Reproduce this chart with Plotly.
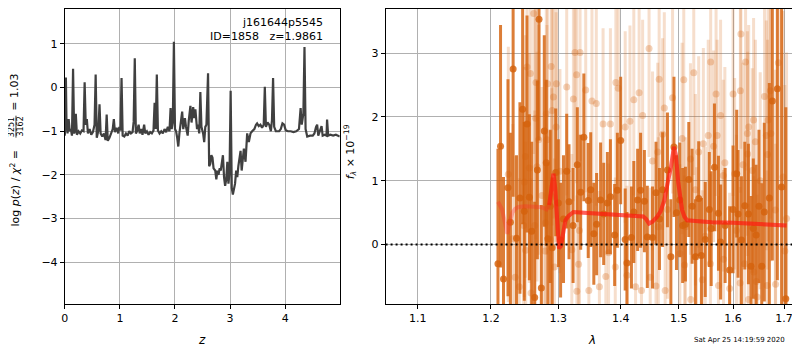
import plotly.graph_objects as go

# ---------------- data: left panel (log p(z)) ----------------
z = [0.00, 0.01, 0.02, 0.03, 0.05, 0.07, 0.09, 0.11, 0.13, 0.15, 0.17, 0.19, 0.20, 0.22, 0.25, 0.28,
     0.31, 0.34, 0.36, 0.38, 0.40, 0.42, 0.45, 0.48, 0.51, 0.54, 0.56, 0.58, 0.61, 0.63, 0.65, 0.68,
     0.71, 0.74, 0.76, 0.78, 0.81, 0.84, 0.87, 0.89, 0.91, 0.94, 0.97, 0.99, 1.01, 1.03, 1.05, 1.08,
     1.11, 1.14, 1.17, 1.20, 1.23, 1.25, 1.27, 1.29, 1.31, 1.34, 1.36, 1.39, 1.41, 1.44, 1.46, 1.49,
     1.52, 1.55, 1.58, 1.61, 1.63, 1.65, 1.67, 1.69, 1.72, 1.75, 1.78, 1.81, 1.84, 1.87, 1.90, 1.92,
     1.94, 1.96, 1.98, 2.00, 2.02, 2.04, 2.06, 2.08, 2.10, 2.13, 2.15, 2.18, 2.20, 2.23, 2.25, 2.28,
     2.30, 2.33, 2.35, 2.37, 2.40, 2.42, 2.44, 2.46, 2.48, 2.51, 2.53, 2.55, 2.57, 2.60, 2.62, 2.64,
     2.66, 2.68, 2.70, 2.73, 2.75, 2.77, 2.79, 2.81, 2.83, 2.85, 2.87, 2.89, 2.91, 2.93, 2.95, 2.97,
     2.99, 3.01, 3.03, 3.05, 3.07, 3.09, 3.11, 3.13, 3.15, 3.17, 3.19, 3.21, 3.23, 3.25, 3.28, 3.31,
     3.34, 3.37, 3.40, 3.44, 3.47, 3.49, 3.52, 3.55, 3.58, 3.61, 3.63, 3.65, 3.68, 3.71, 3.74, 3.76,
     3.78, 3.80, 3.83, 3.86, 3.89, 3.92, 3.95, 3.98, 4.01, 4.05, 4.10, 4.15, 4.20, 4.25, 4.28, 4.30,
     4.33, 4.35, 4.37, 4.40, 4.45, 4.50, 4.53, 4.56, 4.58, 4.60, 4.63, 4.66, 4.68, 4.72, 4.75, 4.76,
     4.78, 4.82, 4.87, 4.92, 4.99]
logp = [-1.10, -0.85, 0.23, -0.75, -1.05, -0.72, -1.00, -0.95, -1.10, 0.43, -1.05, -0.98, -0.60, -1.08, -1.00, -1.05,
        -0.98, -1.00, 0.12, -0.85, -0.72, -1.05, -0.95, -1.08, -1.02, -0.85, 0.30, -1.15, -0.98, -0.38, -1.05, -1.12,
        -1.05, -1.20, -0.62, -1.22, -1.15, -1.05, -0.95, -0.72, -1.02, -0.92, -1.05, -0.90, -0.98, 0.22, -1.10, -1.12,
        -1.05, -1.10, -1.00, -1.05, -1.02, -0.78, 0.67, -1.05, -1.00, -0.85, -1.05, -0.95, -1.08, -0.85, -1.05, -1.00,
        -1.08, -1.02, -1.05, -0.98, -0.35, -0.95, 0.30, -0.98, -1.05, -1.00, -1.05, -0.95, -1.02, -0.90, -1.00, -0.47,
        -0.95, -0.80, 1.05, -0.95, -1.00, -1.15, -1.35, -1.05, -0.85, -0.55, -0.95, -0.70, -0.90, -1.10, -0.75, -0.42,
        -0.80, -0.45, -0.70, -0.50, -0.95, -0.85, -1.05, -0.10, -0.90, -1.05, -1.25, -0.90, -0.85, 0.33, -1.80, -1.75,
        -1.55, -1.60, -1.85, -1.90, -2.10, -1.90, -2.00, -1.85, -1.90, -1.70, -1.55, -2.05, -2.25, -2.10, -1.70, -2.20,
        -1.95, -0.07, -2.30, -2.45, -2.30, -2.20, -1.90, -2.05, -1.80, -1.65, -1.45, -1.90, -1.65, -1.40, -1.70, -1.05,
        -1.25, -1.05, -1.00, -0.95, -0.85, -0.82, -0.88, -0.85, -0.92, -0.85, 0.02, -0.90, -0.80, -0.85, -1.00, -0.75,
        0.22, -0.90, -1.00, -1.00, -1.00, -0.95, -0.82, -0.85, -0.98, -1.00, -1.00, -1.02, -1.00, -0.95, -0.47, -0.85,
        -0.60, 0.93, -0.95, -1.12, -1.10, -1.10, -1.05, -0.90, -0.85, -1.10, -1.00, -0.88, -1.10, -1.08, -1.10, -0.73,
        -1.10, -1.08, -1.10, -1.08, -1.12]

# ---------------- data: right panel (spectrum) ----------------
wave_dark = [1.2100, 1.2137, 1.2180, 1.2245, 1.2280, 1.2320, 1.2370, 1.2420, 1.2460, 1.2485, 1.2525, 1.2560,
             1.2595, 1.2640, 1.2680, 1.2705, 1.2740, 1.2785, 1.2815, 1.2840, 1.2875, 1.2905, 1.2960, 1.3000,
             1.3035, 1.3080, 1.3130, 1.3166, 1.3230, 1.3297, 1.3350, 1.3400, 1.3470, 1.3510, 1.3560, 1.3605,
             1.3670, 1.3720, 1.3780, 1.3830, 1.3900, 1.3945, 1.4000, 1.4075, 1.4105, 1.4180, 1.4220, 1.4285,
             1.4335, 1.4400, 1.4450, 1.4540, 1.4600, 1.4660, 1.4715, 1.4800, 1.4860, 1.4915, 1.4960, 1.5020,
             1.5070, 1.5120, 1.5180, 1.5240, 1.5300, 1.5360, 1.5410, 1.5480, 1.5555, 1.5590, 1.5650, 1.5725,
             1.5765, 1.5850, 1.5935, 1.6000, 1.6070, 1.6095, 1.6160, 1.6225, 1.6295, 1.6345, 1.6390, 1.6445,
             1.6500, 1.6555, 1.6605, 1.6705, 1.6765, 1.6865, 1.6950, 1.7035]
flux_dark = [-0.30, 1.54, -0.54, 0.89, 0.35, 2.75, 0.10, 0.73, 2.12, 0.52, 1.89, 0.74,
             0.21, -0.83, 1.17, 3.53, -0.68, 1.78, 1.28, 0.09, 0.60, -0.05, 1.13, 0.65,
             0.07, 0.40, 1.15, 0.67, 0.30, 1.25, 0.82, 1.68, 0.69, 0.86, 0.17, 0.32,
             0.70, 0.48, 0.65, 0.75, 0.15, 0.85, 1.63, 0.08, -0.29, 0.11, 0.51, 0.70,
             0.85, 0.68, 0.12, 0.11, 0.81, 0.40, 0.86, 1.17, -0.19, 1.53, 0.50, 0.70,
             0.30, 0.32, 1.02, 0.60, -0.19, 0.72, -0.17, 0.08, 0.55, 0.25, 1.21, 0.49,
             0.04, 0.30, -0.40, 0.55, 1.11, 0.48, 0.07, 0.61, 0.48, -0.34, 0.25, 0.15,
             0.60, -0.34, 0.51, 0.73, 2.25, 2.44, 0.90, -0.85]
err_dark = [1.8, 1.9, 1.6, 1.7, 1.4, 2.0, 1.3, 1.5, 1.8, 1.4, 1.7, 1.3,
            1.4, 1.5, 1.4, 1.9, 1.3, 1.5, 1.3, 1.2, 1.2, 1.1, 1.0, 1.0,
            0.9, 1.0, 0.9, 0.9, 0.9, 0.9, 0.9, 1.0, 0.9, 0.9, 0.8, 0.8,
            0.9, 0.8, 0.8, 0.9, 0.8, 0.9, 1.0, 0.8, 0.8, 0.8, 0.8, 0.8,
            0.9, 0.8, 0.8, 0.8, 0.8, 0.8, 0.9, 0.9, 0.9, 1.1, 0.9, 0.9,
            0.9, 0.9, 0.9, 0.9, 0.9, 0.9, 0.9, 0.9, 0.9, 0.9, 1.0, 0.9,
            0.9, 0.9, 1.0, 1.0, 1.0, 1.0, 1.0, 1.0, 1.1, 1.1, 1.1, 1.1,
            1.2, 1.3, 1.4, 1.8, 2.5, 3.0, 3.5, 3.0]

wave_light = [1.2250, 1.2315, 1.2350, 1.2410, 1.2475, 1.2485, 1.2500, 1.2505, 1.2525, 1.2560, 1.2575, 1.2585,
              1.2625, 1.2640, 1.2655, 1.2660, 1.2675, 1.2700, 1.2750, 1.2795, 1.2805, 1.2815, 1.2825, 1.2835,
              1.2875, 1.2890, 1.2900, 1.2905, 1.2925, 1.2940, 1.2965, 1.2970, 1.3025, 1.3130, 1.3210, 1.3235,
              1.3260, 1.3285, 1.3290, 1.3317, 1.3330, 1.3340, 1.3430, 1.3480, 1.3530, 1.3600, 1.3650, 1.3710,
              1.3755, 1.3800, 1.3830, 1.3910, 1.3920, 1.3960, 1.4075, 1.4105, 1.4155, 1.4220, 1.4250, 1.4310,
              1.4350, 1.4370, 1.4480, 1.4500, 1.4540, 1.4600, 1.4630, 1.4640, 1.4655, 1.4715, 1.4745, 1.4760,
              1.4800, 1.4890, 1.5020, 1.5060, 1.5090, 1.5105, 1.5120, 1.5210, 1.5215, 1.5270, 1.5300, 1.5320,
              1.5360, 1.5425, 1.5445, 1.5480, 1.5535, 1.5575, 1.5580, 1.5635, 1.5680, 1.5700, 1.5725, 1.5765,
              1.5815, 1.5820, 1.5845, 1.5935, 1.6000, 1.6030, 1.6065, 1.6135, 1.6140, 1.6150, 1.6190, 1.6220,
              1.6240, 1.6275, 1.6280, 1.6295, 1.6300, 1.6370, 1.6395, 1.6400, 1.6430, 1.6450, 1.6465, 1.6525,
              1.6610, 1.6645, 1.6660, 1.6670, 1.6680, 1.6725, 1.6735, 1.6825, 1.6830, 1.6885, 1.6980, 1.7015,
              1.7050]
flux_light = [1.10, 0.09, -0.51, -0.66, 0.30, 0.98, 1.38, -0.09, 2.78, 1.20, 2.68, -0.76,
              3.62, 0.30, 1.98, 2.54, 1.22, 1.64, 0.77, -0.10, 0.34, 2.05, 1.64, 2.52,
              0.08, 2.79, 0.75, 2.10, 2.31, -0.35, 1.84, 2.52, 1.15, 2.47, -0.08, 2.28,
              3.01, 2.66, -0.73, -0.31, 0.22, 3.01, 2.42, -0.72, 2.25, 2.21, -0.66, 1.89,
              -0.50, -0.13, 1.89, -0.35, 2.54, 2.45, 1.84, -0.48, 1.93, 2.27, -0.66, 2.38,
              -0.72, 2.02, 3.07, -0.51, 1.31, -0.65, 1.45, 0.28, 2.59, 1.73, 2.14, -0.72,
              0.55, 2.30, -0.14, 1.66, 2.58, -0.32, 0.28, 1.34, -0.86, 2.69, 0.86, -0.19,
              1.45, -0.55, 1.58, 0.13, 1.71, -0.30, 2.86, 1.54, 2.36, 1.71, -0.64, 2.02,
              1.08, -0.23, 1.28, -0.69, 2.36, 1.11, 0.22, -0.60, 2.41, 3.30, 1.25, -0.30,
              2.86, 1.74, 1.42, -0.86, 1.84, 1.16, 1.95, -0.43, 1.61, -0.58, -0.82, 1.00,
              2.32, 1.71, -0.64, 1.41, 1.95, 2.41, 1.74, 0.54, -0.62, 2.85, 1.06, -0.10,
              0.41]
err_light = [2.0, 1.8, 1.9, 1.7, 1.8, 1.8, 1.9, 1.7, 2.0, 1.8, 2.0, 1.8,
             2.2, 1.8, 1.9, 2.0, 1.8, 1.8, 1.7, 1.7, 1.7, 1.8, 1.8, 1.9,
             1.7, 1.9, 1.7, 1.8, 1.9, 1.7, 1.8, 1.9, 1.6, 1.7, 1.5, 1.6,
             1.8, 1.7, 1.5, 1.5, 1.5, 1.7, 1.6, 1.5, 1.6, 1.6, 1.5, 1.5,
             1.5, 1.4, 1.5, 1.4, 1.6, 1.6, 1.5, 1.4, 1.5, 1.5, 1.4, 1.6,
             1.4, 1.5, 1.7, 1.4, 1.4, 1.4, 1.4, 1.4, 1.6, 1.5, 1.5, 1.4,
             1.4, 1.5, 1.4, 1.5, 1.6, 1.4, 1.4, 1.5, 1.4, 1.6, 1.5, 1.4,
             1.5, 1.4, 1.5, 1.4, 1.5, 1.4, 1.6, 1.5, 1.6, 1.5, 1.4, 1.5,
             1.5, 1.4, 1.5, 1.5, 1.6, 1.5, 1.5, 1.5, 1.6, 1.8, 1.6, 1.5,
             1.7, 1.6, 1.6, 1.5, 1.6, 1.6, 1.6, 1.5, 1.6, 1.6, 1.6, 1.7,
             1.8, 1.8, 1.8, 1.8, 1.9, 2.0, 2.0, 2.2, 2.2, 2.5, 2.6, 2.6,
             2.6]

wave_model = [1.2100, 1.2160, 1.2200, 1.2235, 1.2270, 1.2310, 1.2350, 1.2400, 1.2500, 1.2600, 1.2700, 1.2780,
              1.2820, 1.2860, 1.2900, 1.2925, 1.2950, 1.2980, 1.3010, 1.3040, 1.3070, 1.3110, 1.3160, 1.3235,
              1.3400, 1.3600, 1.3800, 1.4000, 1.4200, 1.4380, 1.4430, 1.4480, 1.4540, 1.4615, 1.4680, 1.4745,
              1.4800, 1.4860, 1.4915, 1.4950, 1.4990, 1.5030, 1.5060, 1.5100, 1.5150, 1.5300, 1.5600, 1.6000,
              1.6400, 1.6800, 1.7050]
flux_model = [0.67, 0.55, 0.35, 0.17, 0.35, 0.50, 0.56, 0.59, 0.60, 0.60, 0.59, 0.57,
              0.55, 0.62, 0.90, 1.11, 0.90, 0.40, -0.06, -0.02, 0.20, 0.38, 0.45, 0.51,
              0.50, 0.49, 0.47, 0.46, 0.45, 0.44, 0.40, 0.33, 0.36, 0.43, 0.52, 0.69,
              0.95, 1.21, 1.53, 1.40, 0.98, 0.70, 0.54, 0.44, 0.38, 0.37, 0.35, 0.34,
              0.33, 0.31, 0.30]

z_ticks = [0, 1, 2, 3, 4]
logp_ticks = [-4, -3, -2, -1, 0, 1]
wave_ticks = [1.1, 1.2, 1.3, 1.4, 1.5, 1.6, 1.7]
wave_ticktext = ["1.1", "1.2", "1.3", "1.4", "1.5", "1.6", "1.7"]
flux_ticks = [0, 1, 2, 3]

# ---------------- layout helpers (screen pixel -> paper) ----------------
# the page body has an 8px margin, so the figure is shrunk to fit the window
OFF = 8
W, H = 800 - OFF, 350 - OFF
def px(x):
    return (x - OFF) / W
def py(y):
    return 1 - (y - OFF) / H

FONT = "DejaVu Sans"
ORANGE_DARK = "rgba(212,98,12,0.82)"
ORANGE_LIGHT_BAR = "rgba(215,105,25,0.22)"
ORANGE_LIGHT_MK = "rgba(215,105,25,0.30)"

fig = go.Figure()

fig.add_trace(go.Scatter(x=z, y=logp, mode="lines",
                         line=dict(color="#404040", width=2.2),
                         xaxis="x", yaxis="y", hoverinfo="skip"))

fig.add_trace(go.Scatter(x=wave_light, y=flux_light, mode="markers",
                         marker=dict(size=7, color=ORANGE_LIGHT_MK, line=dict(width=0)),
                         error_y=dict(type="data", array=err_light, thickness=3, width=0,
                                      color=ORANGE_LIGHT_BAR),
                         xaxis="x2", yaxis="y2", hoverinfo="skip"))

fig.add_trace(go.Scatter(x=wave_dark, y=flux_dark, mode="markers",
                         marker=dict(size=7, color=ORANGE_DARK, line=dict(width=0)),
                         error_y=dict(type="data", array=err_dark, thickness=3, width=0,
                                      color=ORANGE_DARK),
                         xaxis="x2", yaxis="y2", hoverinfo="skip"))

# model: drawn twice where both beams overlap
fig.add_trace(go.Scatter(x=wave_model, y=flux_model, mode="lines",
                         line=dict(color="rgba(255,40,40,0.32)", width=4),
                         xaxis="x2", yaxis="y2", hoverinfo="skip"))
i0 = next(i for i, w in enumerate(wave_model) if w >= 1.286)
fig.add_trace(go.Scatter(x=wave_model[i0:], y=flux_model[i0:], mode="lines",
                         line=dict(color="rgba(255,20,10,0.55)", width=4),
                         xaxis="x2", yaxis="y2", hoverinfo="skip"))

axis_common = dict(showline=True, linecolor="black", linewidth=1, mirror=True,
                   ticks="outside", ticklen=4, tickwidth=1, tickcolor="black",
                   showgrid=True, gridcolor="#b0b0b0", gridwidth=1, zeroline=False,
                   tickfont=dict(family=FONT, size=11, color="black"))

# the plot area top can't go above the 8px page offset; ranges are trimmed so
# that every value keeps the same screen position as in the reference
TOP = 8
fig.update_layout(
    width=W, height=H,
    margin=dict(l=0, r=0, t=0, b=0),
    paper_bgcolor="white", plot_bgcolor="white",
    showlegend=False,
    xaxis=dict(domain=[px(62), px(338)], anchor="y", range=[0, 4.99],
               tickvals=z_ticks, **axis_common),
    yaxis=dict(domain=[py(304), py(TOP)], anchor="x", range=[-4.96, 1.80],
               tickvals=logp_ticks, **axis_common),
    xaxis2=dict(domain=[px(384), px(799)], anchor="y2", type="log",
                range=[0.02478, 0.23816], tickvals=wave_ticks, ticktext=wave_ticktext,
                **axis_common),
    yaxis2=dict(domain=[py(304), py(TOP)], anchor="x2", range=[-0.933, 3.69],
                tickvals=flux_ticks, **axis_common),
)

# dotted zero line
fig.add_shape(type="line", xref="x2 domain", yref="y2", x0=0, x1=1, y0=0, y1=0,
              line=dict(color="black", width=2, dash="2px,3px"), layer="above")

ann = []
ann.append(dict(text="j161644p5545", x=px(323), y=py(13), xref="paper", yref="paper",
                xanchor="right", yanchor="top", showarrow=False,
                font=dict(family=FONT, size=11, color="black")))
ann.append(dict(text="ID=1858\u00a0\u00a0\u00a0z=1.9861", x=px(323), y=py(27), xref="paper", yref="paper",
                xanchor="right", yanchor="top", showarrow=False,
                font=dict(family=FONT, size=11, color="black")))
# axis titles
ann.append(dict(text="<i>z</i>", x=px(200), y=py(340), xref="paper", yref="paper",
                xanchor="center", yanchor="middle", showarrow=False,
                font=dict(family=FONT, size=12, color="black")))
ann.append(dict(text="<i>λ</i>", x=px(591), y=py(340), xref="paper", yref="paper",
                xanchor="center", yanchor="middle", showarrow=False,
                font=dict(family=FONT, size=12, color="black")))
ann.append(dict(text="<i>f</i><sub><i>λ</i></sub> × 10<sup>−19</sup>", x=px(348), y=py(151),
                xref="paper", yref="paper", xanchor="center", yanchor="middle",
                textangle=-90, showarrow=False,
                font=dict(family=FONT, size=11, color="black")))
# left y label in pieces (stacked fraction)
ann.append(dict(text="log <i>p</i>(<i>z</i>) / <i>χ</i><sup>2</sup> =", x=px(12), y=py(188),
                xref="paper", yref="paper", xanchor="center", yanchor="middle",
                textangle=-90, showarrow=False,
                font=dict(family=FONT, size=11, color="black")))
ann.append(dict(text="3251", x=px(8.5), y=py(126), xref="paper", yref="paper",
                xanchor="center", yanchor="middle", textangle=-90, showarrow=False,
                font=dict(family=FONT, size=8, color="black")))
ann.append(dict(text="3162", x=px(18), y=py(126), xref="paper", yref="paper",
                xanchor="center", yanchor="middle", textangle=-90, showarrow=False,
                font=dict(family=FONT, size=8, color="black")))
ann.append(dict(text="= 1.03", x=px(12), y=py(91), xref="paper", yref="paper",
                xanchor="center", yanchor="middle", textangle=-90, showarrow=False,
                font=dict(family=FONT, size=11, color="black")))
# timestamp
ann.append(dict(text="Sat Apr 25 14:19:59 2020", x=px(787), y=py(340), xref="paper", yref="paper",
                xanchor="right", yanchor="middle", showarrow=False,
                font=dict(family=FONT, size=7, color="black")))
fig.update_layout(annotations=ann)

# fraction bar
fig.add_shape(type="line", xref="paper", yref="paper", x0=px(13), x1=px(13),
              y0=py(115), y1=py(137), line=dict(color="black", width=0.8))

fig.write_html("out.html")
